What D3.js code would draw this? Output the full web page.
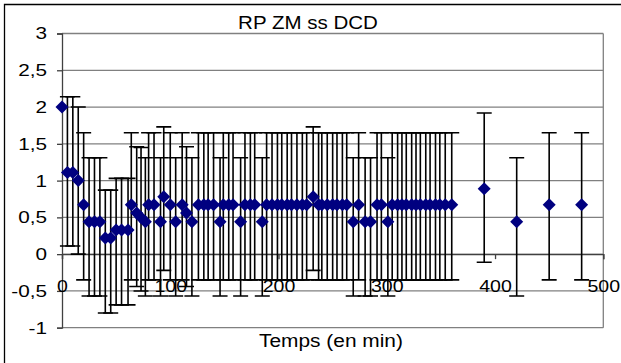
<!DOCTYPE html>
<html>
<head>
<meta charset="utf-8">
<script src="https://cdn.jsdelivr.net/npm/d3@7"></script>
<style>
  body { margin: 0; background: #fff; }
  svg { display: block; }
  text { font-family: "Liberation Sans", Arial, sans-serif; fill: #000; }
</style>
</head>
<body>
<svg id="chart" width="621" height="363"></svg>
<script>
// Sampling times (min)
const times = [0, 5, 10, 15, 20, 25, 30, 35, 40, 45, 50, 55, 61, 64, 69, 73, 77, 80, 85, 91,
  94, 100, 105, 111, 115, 120, 126, 131, 135, 140, 146, 149, 154, 158, 165, 169, 174, 178, 185, 189,
  194, 199, 203, 208, 212, 217, 222, 226, 232, 237, 240, 245, 250, 254, 259, 263, 269, 274, 280, 285,
  291, 295, 301, 305, 310, 314, 318, 323, 327, 331, 336, 340, 345, 349, 354, 360, 390, 420, 450, 480];

// Mean values
const values = [2.0, 1.11, 1.11, 1.0, 0.67, 0.44, 0.44, 0.44, 0.22, 0.22, 0.33, 0.33, 0.33, 0.67, 0.56, 0.5, 0.44, 0.67, 0.67, 0.44,
  0.78, 0.67, 0.44, 0.67, 0.56, 0.44, 0.67, 0.67, 0.67, 0.67, 0.44, 0.67, 0.67, 0.67, 0.44, 0.67, 0.67, 0.67, 0.44, 0.67,
  0.67, 0.67, 0.67, 0.67, 0.67, 0.67, 0.67, 0.67, 0.78, 0.67, 0.67, 0.67, 0.67, 0.67, 0.67, 0.67, 0.44, 0.67, 0.44, 0.44,
  0.67, 0.67, 0.44, 0.67, 0.67, 0.67, 0.67, 0.67, 0.67, 0.67, 0.67, 0.67, 0.67, 0.67, 0.67, 0.67, 0.89, 0.44, 0.67, 0.67];

// Upper error amounts
const errPlus = [null, 1.03, 1.03, 1.0, 0.98, 0.87, 0.87, 0.87, 0.65, 0.65, 0.7, 0.7, 0.7, 0.98, 0.9, 0.95, 0.87, 0.98, 0.98, 0.87,
  0.95, 0.98, 0.87, 0.98, 0.9, 0.87, 0.98, 0.98, 0.98, 0.98, 0.87, 0.98, 0.98, 0.98, 0.87, 0.98, 0.98, 0.98, 0.87, 0.98,
  0.98, 0.98, 0.98, 0.98, 0.98, 0.98, 0.98, 0.98, 0.95, 0.98, 0.98, 0.98, 0.98, 0.98, 0.98, 0.98, 0.87, 0.98, 0.87, 0.87,
  0.98, 0.98, 0.87, 0.98, 0.98, 0.98, 0.98, 0.98, 0.98, 0.98, 0.98, 0.98, 0.98, 0.98, 0.98, 0.98, 1.03, 0.87, 0.98, 0.98];

// Lower error amounts
const errMinus = [null, 1.0, 1.0, 1.0, 1.02, 1.01, 1.01, 1.01, 1.02, 1.02, 1.02, 1.02, 1.02, 1.02, 1.0, 1.0, 1.01, 1.02, 1.02, 1.01,
  1.0, 1.02, 1.01, 1.02, 1.0, 1.01, 1.02, 1.02, 1.02, 1.02, 1.01, 1.02, 1.02, 1.02, 1.01, 1.02, 1.02, 1.02, 1.01, 1.02,
  1.02, 1.02, 1.02, 1.02, 1.02, 1.02, 1.02, 1.02, 1.0, 1.02, 1.02, 1.02, 1.02, 1.02, 1.02, 1.02, 1.01, 1.02, 1.01, 1.01,
  1.02, 1.02, 1.01, 1.02, 1.02, 1.02, 1.02, 1.02, 1.02, 1.02, 1.02, 1.02, 1.02, 1.02, 1.02, 1.02, 1.0, 1.01, 1.02, 1.02];

const yTicks = [-1, -0.5, 0, 0.5, 1, 1.5, 2, 2.5, 3];
const xTicks = [0, 100, 200, 300, 400, 500];
const chartTitle = "RP ZM ss DCD";
const xTitle = "Temps (en min)";

const points = times.map((t, i) => ({ t, v: values[i], hi: errPlus[i], lo: errMinus[i] }));

const svg = d3.select("#chart");
const plot = { left: 62, right: 603.3, top: 33.5, bottom: 327.7 };

const x = d3.scaleLinear().domain([0, 500]).range([plot.left, plot.right]);
const y = d3.scaleLinear().domain([-1, 3]).range([plot.bottom, plot.top]);
const comma = d => String(d).replace(".", ",");

// stretch a text horizontally around its own anchor x
function stretch(sel, s) {
  sel.each(function () {
    const x0 = +this.getAttribute("x") || 0;
    d3.select(this).attr("transform", `translate(${x0 * (1 - s)},0) scale(${s},1)`);
  });
}

// chart area frame
svg.append("path")
  .attr("d", "M4.5,363V4.5H621")
  .attr("fill", "none").attr("stroke", "#000").attr("stroke-width", 1.3);

// horizontal gridlines
svg.append("g").selectAll("line").data(yTicks).join("line")
  .attr("x1", plot.left).attr("x2", plot.right)
  .attr("y1", d => y(d)).attr("y2", d => y(d))
  .attr("stroke", "#808080").attr("stroke-width", 1.3);

// plot area right edge
svg.append("line")
  .attr("x1", plot.right).attr("x2", plot.right)
  .attr("y1", plot.top).attr("y2", plot.bottom)
  .attr("stroke", "#808080").attr("stroke-width", 1.3);

// y axis
const yAxis = svg.append("g")
  .attr("transform", `translate(${plot.left},0)`)
  .call(d3.axisLeft(y).tickValues(yTicks).tickSize(5).tickPadding(10).tickFormat(comma));
yAxis.select(".domain").attr("stroke", "#404040").attr("stroke-width", 1.3);
yAxis.selectAll(".tick line").attr("stroke", "#404040").attr("stroke-width", 1.3);
yAxis.selectAll("text").attr("font-size", 17).attr("fill", "#000").call(stretch, 1.22);

// x axis crossing at 0
const xAxis = svg.append("g")
  .attr("transform", `translate(0,${y(0)})`)
  .call(d3.axisBottom(x).tickValues(xTicks).tickSize(5).tickPadding(21).tickFormat(d3.format("d")));
xAxis.select(".domain").attr("stroke", "#404040").attr("stroke-width", 1.3);
xAxis.selectAll(".tick line").attr("stroke", "#404040").attr("stroke-width", 1.3);
xAxis.selectAll("text").attr("font-size", 17).attr("fill", "#000").call(stretch, 1.15);

// error bars
const eb = svg.append("g").attr("stroke", "#000").attr("stroke-width", 1.6).attr("fill", "none");
const withErr = points.filter(p => p.hi !== null);
eb.selectAll("path").data(withErr).join("path")
  .attr("d", p => {
    const cx = x(p.t), y1 = y(p.v + p.hi), y0 = y(p.v - p.lo);
    return `M${cx},${y1}V${y0}M${cx - 7.5},${y1}H${cx + 7.5}M${cx - 7.5},${y0}H${cx + 7.5}`;
  });

// markers
svg.append("g").selectAll("path").data(points).join("path")
  .attr("transform", p => `translate(${x(p.t)},${y(p.v)})`)
  .attr("d", "M0,-6.5L6.5,0L0,6.5L-6.5,0Z")
  .attr("fill", "#000080");

// titles
svg.append("text")
  .attr("x", 308).attr("y", 29)
  .attr("text-anchor", "middle").attr("font-size", 19)
  .text(chartTitle).call(stretch, 1.08);

svg.append("text")
  .attr("x", 331).attr("y", 347)
  .attr("text-anchor", "middle").attr("font-size", 18)
  .text(xTitle).call(stretch, 1.16);
</script>
</body>
</html>
